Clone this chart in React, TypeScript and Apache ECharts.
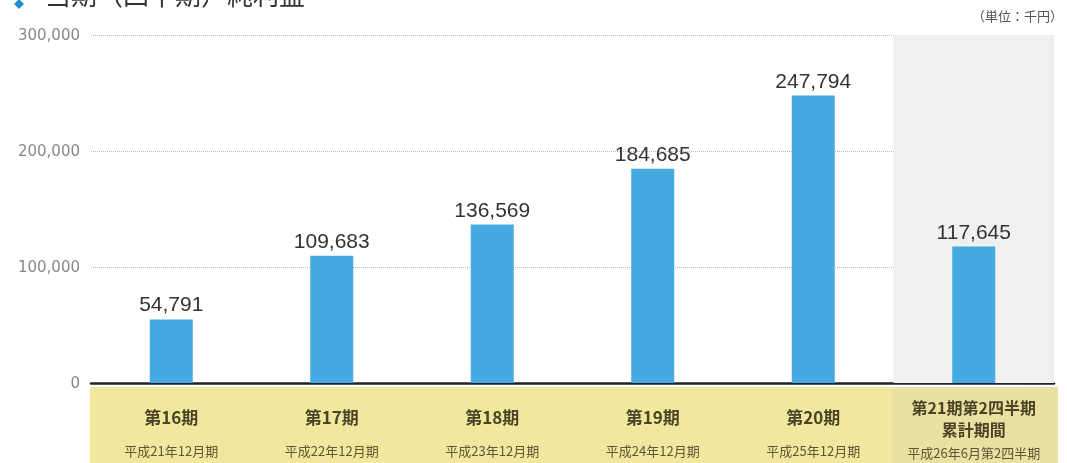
import React, { useEffect, useRef } from "react";
import * as echarts from "echarts";

const categories = ["第16期", "第17期", "第18期", "第19期", "第20期", "第21期第2四半期\n累計期間"];
const subLabels = ["平成21年12月期", "平成22年12月期", "平成23年12月期", "平成24年12月期", "平成25年12月期", "平成26年6月第2四半期"];
const profits = [54791, 109683, 136569, 184685, 247794, 117645];
const highlight = [null, null, null, null, null, 300000];
const yTicks = [0, 100000, 200000, 300000];

export default function App() {
  const ref = useRef<HTMLDivElement>(null);
  useEffect(() => {
    if (!ref.current) return;
    const chart = echarts.init(ref.current, null, { renderer: "svg" });
    const font = "'Liberation Sans', Arial, 'Noto Sans CJK JP', sans-serif";
    const cjk = "'Noto Sans CJK JP', sans-serif";
    chart.setOption({
      animation: false,
      textStyle: { fontFamily: font },
      grid: { left: 91, right: 13, top: 35, bottom: 80 },
      graphic: [
        { type: "rect", z: -10, shape: { x: 90, y: 387, width: 802, height: 76 }, style: { fill: "#f1e79d" } },
        { type: "rect", z: -10, shape: { x: 892, y: 387, width: 166, height: 76 }, style: { fill: "#e9e0a2" } },
        { type: "rect", z: 5, x: 19, y: 4, rotation: Math.PI / 4, shape: { x: -3.5, y: -3.5, width: 7, height: 7 }, style: { fill: "#1e8fcc" } },
        { type: "text", z: 5, left: 45, top: -20, style: { text: "当期（四半期）純利益", fontSize: 26, fill: "#333", fontFamily: cjk } },
        { type: "text", z: 5, right: 4, top: 9, style: { text: "（単位：千円）", fontSize: 13, fill: "#555", fontFamily: cjk } },
      ],
      xAxis: [
        {
          type: "category",
          data: categories,
          axisLine: { lineStyle: { color: "#222", width: 2.5 } },
          axisTick: { show: false },
          axisLabel: {
            interval: 0,
            margin: 13,
            formatter: (v: string, i: number) => {
              if (v.indexOf("\n") >= 0) {
                const parts = v.split("\n");
                return `{c|${parts[0]}}\n{c|${parts[1]}}\n{d|${subLabels[i]}}`;
              }
              return `{a|${v}}\n{b|${subLabels[i]}}`;
            },
            rich: {
              a: { fontSize: 17, fontWeight: "bold", color: "#4a4426", lineHeight: 40, fontFamily: cjk },
              b: { fontSize: 13, color: "#5e5636", lineHeight: 28, fontFamily: cjk },
              c: { fontSize: 16, fontWeight: "bold", color: "#4a4426", lineHeight: 22, fontFamily: cjk },
              d: { fontSize: 13, color: "#5e5636", lineHeight: 24, fontFamily: cjk },
            },
          },
        },
        { type: "category", data: categories, show: false },
      ],
      yAxis: {
        type: "value",
        min: yTicks[0],
        max: yTicks[yTicks.length - 1],
        interval: 100000,
        axisLine: { show: false },
        axisTick: { show: false },
        axisLabel: {
          margin: 11,
          color: "#888",
          fontSize: 15,
          fontFamily: "'DejaVu Sans', sans-serif",
          formatter: (v: number) => v.toLocaleString("en-US"),
        },
        splitLine: { lineStyle: { color: "#bbb", type: "dotted", width: 1 } },
      },
      series: [
        {
          type: "bar",
          xAxisIndex: 1,
          data: highlight,
          barWidth: "100%",
          itemStyle: { color: "#f0f0f0" },
          silent: true,
          z: 0,
        },
        {
          type: "bar",
          data: profits,
          barWidth: 43,
          itemStyle: { color: "#46aae2" },
          z: 3,
          label: {
            show: true,
            position: "top",
            distance: 5,
            fontSize: 21,
            color: "#333",
            formatter: (p: any) => p.value.toLocaleString("en-US"),
          },
        },
      ],
    });
    return () => chart.dispose();
  }, []);
  return <div ref={ref} style={{ position: "fixed", left: 0, top: 0, width: 1067, height: 463 }} />;
}
